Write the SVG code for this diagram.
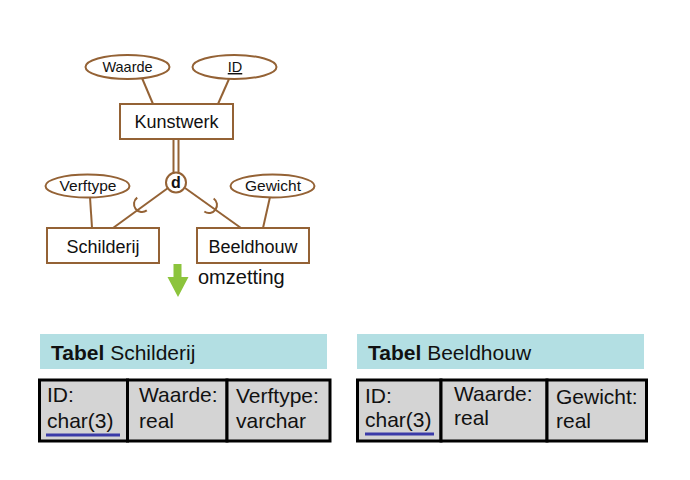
<svg xmlns="http://www.w3.org/2000/svg" width="690" height="480" viewBox="0 0 690 480">
<defs>
<style>
.er{fill:#fff;stroke:#946235;stroke-width:2}
.ln{stroke:#946235;stroke-width:2;fill:none}
.t{font-family:"Liberation Sans",Arial,sans-serif;fill:#111}
.hdr{fill:#b3dfe3}
.cell{fill:#d4d4d4;stroke:#000;stroke-width:3}
.ul{stroke:#3a3aa8;stroke-width:3}
</style>
<path id="cup" d="M0,-8 A8,8 0 0,0 0,8"/>
</defs>
<rect width="690" height="480" fill="#fff"/>
<g id="connectors">
<line class="ln" x1="142" y1="78" x2="153" y2="104"/>
<line class="ln" x1="229" y1="79" x2="218" y2="104"/>
<line class="ln" x1="173.5" y1="139" x2="173.5" y2="173"/>
<line class="ln" x1="178.5" y1="139" x2="178.5" y2="173"/>
<line class="ln" x1="168" y1="188" x2="113" y2="228"/>
<line class="ln" x1="185" y1="188" x2="241" y2="228"/>
<use href="#cup" class="ln" transform="translate(142,204) rotate(-36.9)"/>
<use href="#cup" class="ln" transform="translate(209,205) rotate(-144.4)"/>
<line class="ln" x1="90" y1="197" x2="92" y2="228"/>
<line class="ln" x1="270" y1="197" x2="263" y2="228"/>
</g>
<g id="attr-waarde">
<ellipse class="er" cx="127.5" cy="67" rx="42" ry="12"/>
<text class="t" x="127.5" y="72" font-size="14.5" text-anchor="middle">Waarde</text>
</g>
<g id="attr-id">
<ellipse class="er" cx="234.5" cy="67" rx="42" ry="12"/>
<text class="t" x="235" y="72" font-size="14.5" text-anchor="middle" text-decoration="underline">ID</text>
</g>
<g id="kunstwerk">
<rect class="er" x="120" y="104" width="113" height="35"/>
<text class="t" x="176.5" y="128" font-size="18" text-anchor="middle">Kunstwerk</text>
</g>
<g id="disjoint">
<circle class="er" cx="176" cy="182.5" r="10"/>
<text class="t" x="176" y="188" font-size="16" font-weight="bold" text-anchor="middle">d</text>
</g>
<g id="attr-verftype">
<ellipse class="er" cx="87.5" cy="186" rx="42" ry="11.5"/>
<text class="t" x="88" y="191" font-size="15.5" text-anchor="middle">Verftype</text>
</g>
<g id="attr-gewicht">
<ellipse class="er" cx="272.5" cy="186" rx="42" ry="11.5"/>
<text class="t" x="273" y="191" font-size="15.5" text-anchor="middle">Gewicht</text>
</g>
<g id="schilderij">
<rect class="er" x="47" y="228" width="112" height="35"/>
<text class="t" x="103" y="252.5" font-size="18" text-anchor="middle">Schilderij</text>
</g>
<g id="beeldhouw">
<rect class="er" x="197" y="228" width="112" height="35"/>
<text class="t" x="253" y="252.5" font-size="18" text-anchor="middle">Beeldhouw</text>
</g>
<g id="omzetting">
<polygon points="173.5,264 181.5,264 181.5,277 188.5,277 178,297 167.5,277 173.5,277" fill="#8cc43c"/>
<text class="t" x="198" y="284" font-size="20">omzetting</text>
</g>
<g id="tabel-schilderij">
<rect class="hdr" x="40" y="334" width="287" height="35"/>
<text class="t" x="51" y="359.5" font-size="21"><tspan font-weight="bold">Tabel</tspan> Schilderij</text>
<rect class="cell" x="39.5" y="380" width="88" height="61"/>
<rect class="cell" x="127.5" y="380" width="99.5" height="61"/>
<rect class="cell" x="227" y="380" width="103" height="61"/>
<text class="t" font-size="21"><tspan x="47" y="402">ID:</tspan><tspan x="47" y="428">char(3)</tspan></text>
<line class="ul" x1="46" y1="435" x2="120" y2="435"/>
<text class="t" font-size="21"><tspan x="139" y="402">Waarde:</tspan><tspan x="139" y="428">real</tspan></text>
<text class="t" font-size="21"><tspan x="236" y="403">Verftype:</tspan><tspan x="236" y="428">varchar</tspan></text>
</g>
<g id="tabel-beeldhouw">
<rect class="hdr" x="357" y="334" width="287" height="35"/>
<text class="t" x="368" y="360" font-size="21"><tspan font-weight="bold">Tabel</tspan> Beeldhouw</text>
<rect class="cell" x="357.5" y="380" width="83.5" height="61"/>
<rect class="cell" x="441" y="380" width="106" height="61"/>
<rect class="cell" x="547" y="380" width="99.5" height="61"/>
<text class="t" font-size="21"><tspan x="365" y="402.5">ID:</tspan><tspan x="365" y="427">char(3)</tspan></text>
<line class="ul" x1="365" y1="434" x2="434" y2="434"/>
<text class="t" font-size="21"><tspan x="454" y="401">Waarde:</tspan><tspan x="454" y="425">real</tspan></text>
<text class="t" font-size="21"><tspan x="556" y="404">Gewicht:</tspan><tspan x="556" y="428">real</tspan></text>
</g>
</svg>
